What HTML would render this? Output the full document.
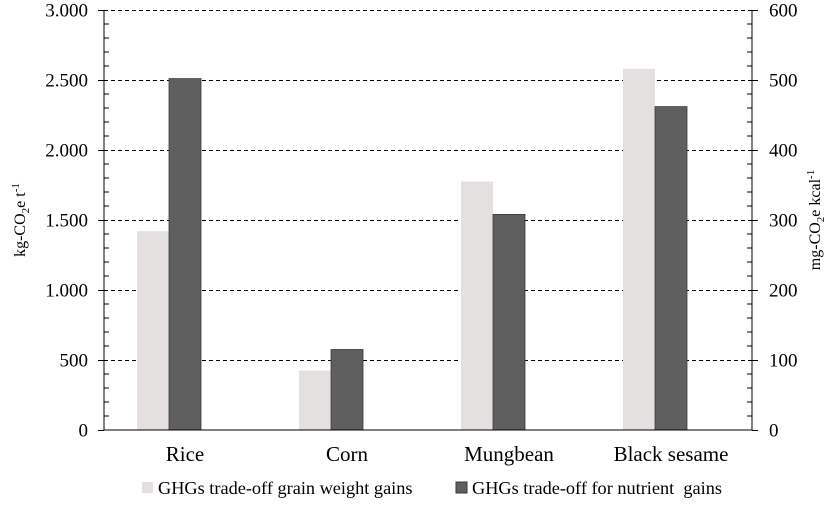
<!DOCTYPE html>
<html><head><meta charset="utf-8"><style>
body{margin:0;background:#fff;}
svg text{font-family:"Liberation Serif",serif;fill:#000;}
</style></head><body>
<svg id="chart" width="837" height="517" xmlns="http://www.w3.org/2000/svg">
<g id="grid"></g><g id="bars"></g><g id="axes"></g>
<text transform="translate(25,220) rotate(-90)" text-anchor="middle" font-size="16">kg-CO<tspan font-size="11" dy="4">2</tspan><tspan dy="-4">e t</tspan><tspan font-size="11" dy="-6">-1</tspan></text>
<text transform="translate(820,220) rotate(-90)" text-anchor="middle" font-size="16">mg-CO<tspan font-size="11" dy="4">2</tspan><tspan dy="-4">e kcal</tspan><tspan font-size="11" dy="-6">-1</tspan></text>
<g>
<rect x="142" y="482" width="11" height="11" fill="#e4e0e0"/>
<text x="158" y="494" font-size="18.3">GHGs trade-off grain weight gains</text>
<rect x="456" y="482" width="11" height="11" fill="#5f5f5f" stroke="#3a3a3a"/>
<text x="472" y="494" font-size="18.3" xml:space="preserve">GHGs trade-off for nutrient  gains</text>
</g>
</svg>
<script>
const categories=["Rice","Corn","Mungbean","Black sesame"];
const grainGains=[1420,425,1775,2580];
const nutrientGains=[2510,575,1540,2310];
const leftTicks=["0","500","1.000","1.500","2.000","2.500","3.000"];
const rightTicks=["0","100","200","300","400","500","600"];
const NS="http://www.w3.org/2000/svg";
const X0=104,X1=752,Y0=430,Y1=10,MAX=3000;
const y=v=>Y0-(v/MAX)*(Y0-Y1);
const band=(X1-X0)/categories.length;
const cx=i=>X0+band*i+band/2;
function mk(tag,attrs,parent,txt){const e=document.createElementNS(NS,tag);for(const k in attrs)e.setAttribute(k,attrs[k]);if(txt!==undefined)e.textContent=txt;document.getElementById(parent).appendChild(e);return e;}
leftTicks.forEach((t,i)=>{
  const yy=Math.round(y(i*MAX/(leftTicks.length-1)))+0.5;
  if(i>0){const g=mk("line",{x1:X0,x2:X1,y1:yy,y2:yy,stroke:"#000","stroke-dasharray":"4,3","stroke-width":1},"grid");
  
  }
  const tl=mk("line",{x1:X0-6,x2:X0,y1:yy,y2:yy,stroke:"#000"},"axes");
  
  
  const tr=mk("line",{x1:X1,x2:X1+6,y1:yy,y2:yy,stroke:"#000"},"axes");
  
  
  const l=mk("text",{x:X0-16,y:yy+6,"text-anchor":"end","font-size":19},"axes",t);
  
  
  const r=mk("text",{x:X1+17,y:yy+6,"text-anchor":"start","font-size":19},"axes",rightTicks[i]);
  
  
});
for(let v=100;v<MAX;v+=100){
  if(v%500===0)continue;
  const yy=y(v);
  const a=mk("line",{x1:X0,x2:X0+5,y1:yy,y2:yy,stroke:"#000"},"axes");
  
  
  const b=mk("line",{x1:X1-5,x2:X1,y1:yy,y2:yy,stroke:"#000"},"axes");
  
  
}
categories.forEach((c,i)=>{
  const a=mk("rect",{x:cx(i)-48,y:y(grainGains[i]),width:32,height:Y0-y(grainGains[i]),fill:"#e4e0e0"},"bars");
  
  
  const b=mk("rect",{x:cx(i)-16,y:y(nutrientGains[i]),width:32,height:Y0-y(nutrientGains[i]),fill:"#5f5f5f",stroke:"#3a3a3a","stroke-width":0.8},"bars");
  
  
  const t=mk("text",{x:cx(i),y:461,"text-anchor":"middle","font-size":21},"axes",c);
  
  
});
[[X0,Y1,X0,Y0],[X1,Y1,X1,Y0],[X0,Y0,X1,Y0]].forEach(p=>{
  const l=mk("line",{x1:p[0],y1:p[1],x2:p[2],y2:p[3],stroke:"#000","stroke-width":1},"axes");
  
  
});
</script>
</body></html>
